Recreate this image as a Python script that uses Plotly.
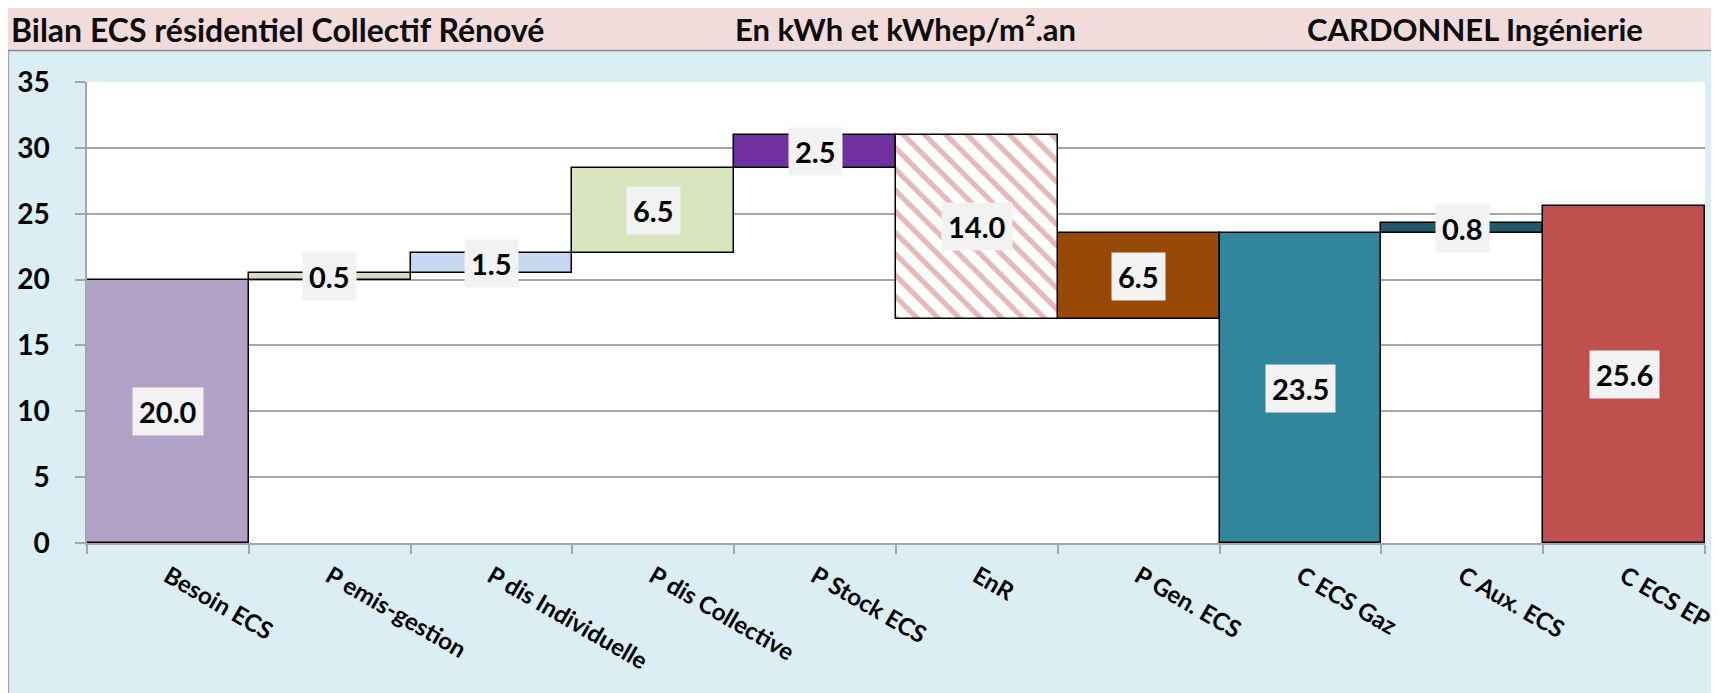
import plotly.graph_objects as go

# ---- data ----
categories = ["Besoin ECS", "P emis-gestion", "P dis Individuelle", "P dis Collective",
              "P Stock ECS", "EnR", "P Gen. ECS", "C ECS Gaz", "C Aux. ECS", "C ECS EP"]
values = [20.0, 0.5, 1.5, 6.5, 2.5, 14.0, 6.5, 23.5, 0.8, 25.6]
bases = [0.0, 20.0, 20.5, 22.0, 28.5, 17.0, 17.0, 0.0, 23.5, 0.0]
colors = ["#b3a2c7", "#ddd9c3", "#c6d9f1", "#d7e4bd", "#7030a0",
          "#e6b9b8", "#984807", "#31859c", "#215968", "#c0504d"]
hatched = [False, False, False, False, False, True, False, False, False, False]

title_left = "Bilan ECS résidentiel Collectif Rénové"
title_mid = "En kWh et kWhep/m².an"
title_right = "CARDONNEL Ingénierie"

PAGE_W, PAGE_H = 1719, 693
OFF = 8  # default body margin of the html page
W, H = PAGE_W - OFF, PAGE_H - OFF
# plot area in page pixels
L, R, T, B = 87, 1705, 82, 543


def px(X):
    return (X - L) / (R - L)


def py(Y):
    return (B - Y) / (B - T)


FONT = "Lato"

plain = [i for i, h in enumerate(hatched) if not h]
hat = [i for i, h in enumerate(hatched) if h]

fig = go.Figure()
fig.add_trace(go.Bar(
    x=[categories[i] for i in plain], y=[values[i] for i in plain], base=[bases[i] for i in plain],
    marker=dict(color=[colors[i] for i in plain], line=dict(color="#000000", width=1.5)),
    hoverinfo="skip", showlegend=False,
))
fig.add_trace(go.Bar(
    x=[categories[i] for i in hat], y=[values[i] for i in hat], base=[bases[i] for i in hat],
    marker=dict(color=colors[hat[0]], line=dict(color="#000000", width=1.5),
                pattern=dict(shape="\\", bgcolor="#ffffff",
                             fillmode="replace", size=15, solidity=0.35)),
    hoverinfo="skip", showlegend=False,
))

annotations = []
for c, v, b in zip(categories, values, bases):
    annotations.append(dict(
        x=c, y=b + v / 2, xref="x", yref="y", text=f"{v:.1f}", showarrow=False,
        bgcolor="#f2f2f2", borderpad=6,
        font=dict(family=FONT, size=29, color="#000000", weight=700),
    ))

hdr_font = dict(family=FONT, size=31, color="#0d0d0d", weight=700)
annotations += [
    dict(x=px(9), y=py(29), xref="paper", yref="paper", xanchor="left", yanchor="middle",
         text=title_left, showarrow=False, font=dict(hdr_font, size=32)),
    dict(x=px(905), y=py(29), xref="paper", yref="paper", xanchor="center", yanchor="middle",
         text=title_mid, showarrow=False, font=hdr_font),
    dict(x=px(1475), y=py(29), xref="paper", yref="paper", xanchor="center", yanchor="middle",
         text=title_right, showarrow=False, font=hdr_font),
]

shapes = [
    dict(type="rect", xref="paper", yref="paper", x0=px(0), x1=px(PAGE_W + 20), y0=py(50), y1=py(0),
         fillcolor="#f2dcdb", line=dict(width=0), layer="below"),
    dict(type="rect", xref="paper", yref="paper", x0=px(OFF), x1=px(PAGE_W + 20), y0=py(PAGE_H + 20), y1=py(51),
         fillcolor="#dbeef4", line=dict(width=0), layer="below"),
    dict(type="rect", xref="paper", yref="paper", x0=0, x1=1, y0=0, y1=1,
         fillcolor="#ffffff", line=dict(width=0), layer="below"),
    dict(type="line", xref="paper", yref="paper", x0=px(0), x1=px(PAGE_W + 20), y0=py(50.5), y1=py(50.5),
         line=dict(color="#8c8c8c", width=1.5), layer="below"),
    dict(type="line", xref="paper", yref="paper", x0=px(OFF + 0.5), x1=px(OFF + 0.5), y0=py(51), y1=py(PAGE_H + 20),
         line=dict(color="#a6a6a6", width=1.5), layer="below"),
]

fig.update_layout(
    width=W, height=H,
    margin=dict(l=L - OFF, r=W - (R - OFF), t=T - OFF, b=H - (B - OFF), autoexpand=False),
    paper_bgcolor="#ffffff", plot_bgcolor="rgba(0,0,0,0)",
    bargap=0, barmode="overlay", showlegend=False,
    annotations=annotations, shapes=shapes,
    xaxis=dict(type="category", categoryorder="array", categoryarray=categories,
               range=[-0.5, len(categories) - 0.5], tickson="boundaries",
               ticks="outside", ticklen=9, tickcolor="#a6a6a6", tickwidth=1.5,
               showline=True, linecolor="#a6a6a6", linewidth=2, showgrid=False,
               tickangle=30, ticklabelstandoff=8,
               tickfont=dict(family=FONT, size=24, color="#000000", weight=700),
               fixedrange=True),
    yaxis=dict(range=[0, 35], dtick=5, tick0=0, showgrid=True, gridcolor="#a6a6a6", gridwidth=1.5,
               showline=True, linecolor="#a6a6a6", linewidth=1.5, zeroline=False,
               ticks="outside", ticklen=10, tickcolor="#a6a6a6", tickwidth=1.5,
               ticklabelstandoff=20,
               tickfont=dict(family=FONT, size=28, color="#000000", weight=700),
               fixedrange=True),
)

fig.write_html("out.html")
